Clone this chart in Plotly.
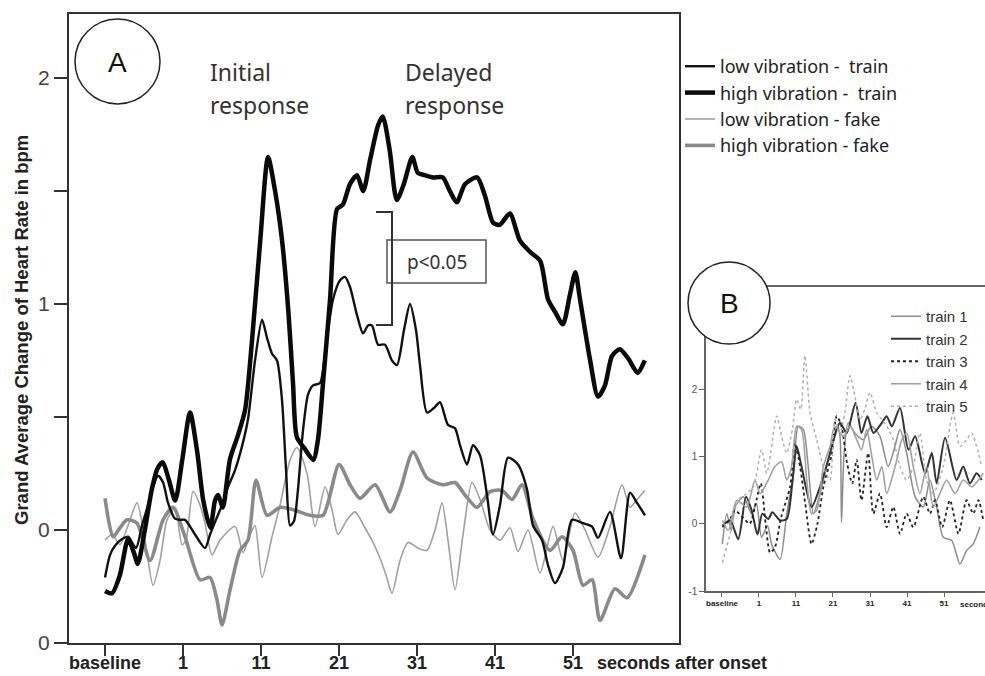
import plotly.graph_objects as go

# ---------------- data (panel A) : (seconds, change in bpm) ----------------
low_vib_train = [(-9.0,-0.21),(-8.36,-0.11),(-7.72,-0.07),(-6.82,-0.04),(-6.05,-0.03),(-5.03,-0.08),(-4.26,0.02),(-3.49,0.11),(-2.85,0.19),(-2.21,0.24),(-1.56,0.21),(-0.92,0.12),(-0.03,0.05),(0.62,0.045),(1.26,0.045),(2.54,-0.02),(3.82,-0.08),(4.46,-0.02),(5.1,0.035),(6.0,0.11),(6.77,0.19),(7.67,0.265),(8.56,0.37),(9.33,0.49),(10.23,0.75),(11.13,0.93),(11.77,0.85),(12.41,0.78),(13.05,0.75),(13.69,0.575),(14.21,0.265),(14.72,0.02),(15.23,0.04),(15.74,0.18),(16.38,0.44),(17.03,0.60),(17.67,0.64),(18.56,0.65),(19.33,0.82),(20.23,1.02),(21.13,1.105),(21.77,1.12),(22.41,1.075),(23.31,0.95),(24.08,0.87),(24.72,0.905),(25.23,0.905),(26.0,0.82),(26.9,0.82),(27.79,0.75),(28.44,0.73),(29.33,0.885),(30.1,1.0),(30.87,0.885),(31.38,0.73),(32.28,0.52),(33.18,0.54),(33.95,0.565),(34.97,0.465),(35.87,0.45),(36.51,0.375),(37.41,0.29),(38.18,0.375),(39.08,0.33),(39.97,0.155),(40.74,-0.02),(41.64,0.11),(42.67,0.32),(43.95,0.29),(45.1,0.18),(45.87,0.02),(47.03,-0.045),(47.79,-0.155),(48.69,-0.235),(49.72,-0.165),(50.87,0.045),(52.28,0.03),(53.44,0.015),(54.21,-0.035),(55.74,0.08),(57.15,-0.125),(58.31,0.165),(59.21,0.12),(60.23,0.065)]

high_vib_train = [(-9.0,-0.27),(-8.1,-0.28),(-7.1,-0.20),(-6.05,-0.04),(-5.3,-0.10),(-4.8,-0.15),(-3.9,0.0),(-3.0,0.18),(-2.3,0.27),(-1.6,0.30),(-0.8,0.22),(0.0,0.13),(0.9,0.31),(1.9,0.52),(2.8,0.35),(3.6,0.13),(4.5,0.01),(5.1,0.13),(5.5,0.155),(6.1,0.10),(7.0,0.31),(8.05,0.42),(8.95,0.53),(9.85,0.84),(10.9,1.28),(11.9,1.65),(12.8,1.50),(13.7,1.28),(14.5,0.97),(15.1,0.65),(15.6,0.41),(16.6,0.36),(17.7,0.31),(18.3,0.40),(18.95,0.65),(19.85,1.02),(20.75,1.42),(21.5,1.44),(22.4,1.53),(23.3,1.57),(24.1,1.50),(25.0,1.64),(26.0,1.79),(26.6,1.83),(27.5,1.68),(28.4,1.46),(29.3,1.53),(30.4,1.65),(31.1,1.58),(32.0,1.57),(33.05,1.56),(34.3,1.56),(35.2,1.50),(36.1,1.45),(37.15,1.53),(38.7,1.56),(39.7,1.48),(40.75,1.36),(41.6,1.35),(42.9,1.40),(44.2,1.28),(45.5,1.23),(46.8,1.19),(47.8,1.02),(48.7,0.965),(49.7,0.91),(50.6,1.04),(51.3,1.14),(51.9,1.02),(53.2,0.75),(54.2,0.59),(55.1,0.64),(56.0,0.77),(57.0,0.80),(58.05,0.76),(59.3,0.695),(60.2,0.75)]

low_vib_fake = [(-9.0,-0.045),(-8.1,-0.02),(-7.08,-0.065),(-6.05,0.02),(-4.9,0.12),(-3.87,-0.045),(-2.85,-0.245),(-1.95,-0.135),(-1.05,0.045),(-0.03,0.095),(0.87,-0.065),(1.38,-0.045),(2.28,0.17),(3.18,0.11),(3.82,0.03),(4.72,-0.11),(5.74,-0.045),(7.67,0.015),(8.69,-0.10),(9.59,-0.02),(10.23,0.02),(11.13,-0.21),(12.41,-0.03),(13.44,0.11),(14.72,0.31),(15.62,0.365),(16.9,0.25),(17.92,0.015),(19.21,0.19),(20.1,0.09),(20.87,-0.02),(22.03,0.045),(23.05,0.08),(24.33,0.01),(25.36,-0.055),(26.26,-0.125),(27.03,-0.20),(27.79,-0.28),(28.82,-0.135),(29.85,-0.055),(31.13,-0.08),(32.28,-0.09),(33.31,0.0),(34.21,0.12),(34.97,-0.045),(35.87,-0.265),(36.9,-0.02),(38.05,0.21),(39.08,0.135),(40.36,0.0),(41.64,-0.045),(42.92,0.01),(43.95,-0.095),(45.23,0.0),(46.77,-0.19),(48.44,0.015),(49.72,-0.135),(51.26,0.075),(52.54,0.0),(54.21,-0.12),(55.74,0.015),(57.28,0.20),(58.31,0.10),(59.21,0.135),(60.23,0.175)]

high_vib_fake = [(-9.0,0.14),(-7.97,-0.03),(-7.08,0.01),(-6.18,0.045),(-4.9,0.03),(-3.23,-0.135),(-1.56,0.045),(-0.28,0.10),(1.26,-0.03),(3.18,-0.22),(4.46,-0.21),(5.36,-0.31),(6.0,-0.42),(7.03,-0.265),(8.31,-0.09),(9.33,-0.045),(10.36,0.22),(11.77,0.065),(13.44,0.10),(15.1,0.09),(17.28,0.065),(18.95,0.065),(21.0,0.29),(22.41,0.20),(23.69,0.14),(25.62,0.20),(27.54,0.08),(28.82,0.175),(30.49,0.345),(32.28,0.23),(34.33,0.20),(35.87,0.21),(37.15,0.155),(38.69,0.10),(40.36,0.17),(41.9,0.175),(43.18,0.135),(44.46,0.20),(45.87,0.05),(48.05,-0.09),(49.59,-0.03),(51.0,-0.09),(52.28,-0.245),(53.44,-0.22),(54.46,-0.40),(56.38,-0.26),(57.92,-0.30),(60.23,-0.11)]

# ---------------- data (panel B) ----------------
train_1 = [(-8.9,-0.3),(-7.7,0.15),(-6.5,-0.1),(-5.5,0.25),(-3.2,0.4),(-1.0,0.15),(0.3,0.3),(1.7,-0.2),(3.3,-0.03),(4.4,-0.3),(6.7,-0.53),(8.5,0.15),(10.3,0.75),(11.6,1.45),(13.0,1.4),(14.3,0.85),(15.7,0.15),(17.5,0.45),(19.3,0.85),(21.1,1.25),(22.2,1.45),(22.9,1.3),(23.3,0.02),(24.0,1.05),(25.1,1.5),(26.9,1.35),(29.2,1.25),(31.4,1.45),(33.7,1.3),(35.9,0.85),(37.5,1.1),(39.1,1.4),(40.9,1.05),(43.2,0.4),(45.4,0.25),(47.2,0.65),(49.0,0.25),(50.8,-0.2),(53.1,-0.25),(55.3,-0.6),(57.1,-0.4),(58.9,-0.3),(60.7,-0.05)]
train_2 = [(-8.9,-0.03),(-6.8,0.05),(-4.6,-0.23),(-2.5,0.40),(-1.0,0.2),(0.6,-0.16),(1.9,0.15),(3.5,0.07),(4.6,0.17),(6.7,0.05),(8.5,0.07),(10.0,0.6),(11.2,1.15),(12.5,0.85),(15.2,0.25),(17.5,0.55),(19.7,0.95),(22.0,1.4),(22.9,1.5),(24.7,1.35),(27.1,1.8),(28.7,1.35),(30.3,1.6),(31.9,1.35),(34.2,1.5),(35.5,1.6),(36.9,1.45),(39.1,1.72),(41.4,1.1),(43.2,1.3),(45.9,0.75),(47.7,1.05),(49.0,0.6),(51.3,1.28),(54.4,0.65),(56.2,0.85),(58.0,0.6),(59.8,0.75),(61.2,0.65)]
train_3 = [(-8.9,-0.05),(-7.0,0.05),(-5.5,0.2),(-3.5,0.1),(-1.5,0.0),(0.3,0.35),(1.5,0.6),(2.8,0.0),(4.0,-0.43),(5.3,-0.35),(7.0,0.1),(9.4,0.55),(10.7,1.2),(12.1,0.85),(13.5,0.3),(15.2,-0.3),(16.8,0.0),(18.4,0.55),(20.6,1.02),(22.0,1.6),(23.3,1.45),(24.8,0.9),(26.2,0.6),(27.4,0.95),(28.7,0.35),(30.5,1.05),(31.9,0.15),(33.7,0.45),(35.5,-0.05),(37.3,0.25),(39.1,-0.15),(40.9,0.15),(42.7,-0.05),(45.4,0.4),(47.2,0.15),(48.6,0.35),(50.5,-0.05),(52.6,0.35),(54.9,-0.15),(57.1,0.35),(58.9,0.15),(60.3,0.35),(61.6,0.05)]
train_4 = [(-8.9,0.05),(-7.3,-0.1),(-5.0,0.35),(-2.3,0.25),(-0.1,0.65),(1.3,0.45),(3.5,0.65),(5.3,0.85),(7.1,0.92),(8.5,0.65),(9.8,0.85),(11.2,1.45),(12.5,1.4),(13.9,0.65),(15.2,0.15),(16.6,0.2),(18.4,0.85),(20.2,1.15),(21.5,1.45),(23.8,1.3),(25.6,1.45),(27.4,1.25),(28.7,1.1),(30.1,1.4),(31.5,1.0),(32.8,0.65),(34.2,0.85),(35.5,0.45),(37.8,0.85),(39.6,1.25),(40.9,1.35),(42.7,0.85),(44.5,0.45),(46.3,0.85),(48.1,0.25),(49.9,0.45),(51.7,0.65),(54.0,0.45),(56.2,0.65),(58.5,0.55),(60.3,0.65),(61.6,0.75)]
train_5 = [(-8.9,-0.58),(-6.8,-0.15),(-4.6,0.35),(-2.3,0.45),(-0.5,0.55),(1.7,1.1),(3.1,0.75),(5.8,1.6),(7.1,1.3),(8.5,1.05),(10.0,1.4),(11.2,1.85),(12.3,1.7),(13.4,2.5),(14.8,1.65),(16.6,1.25),(18.4,0.85),(20.2,0.65),(21.5,1.55),(22.9,1.35),(24.2,1.65),(25.6,2.2),(26.9,1.9),(28.3,1.55),(29.6,1.7),(31.0,1.95),(32.8,1.65),(34.2,1.55),(35.5,1.45),(37.3,1.25),(39.1,0.85),(40.9,0.65),(42.7,0.85),(44.5,1.35),(46.3,0.65),(48.1,0.45),(50.8,0.85),(53.5,1.65),(55.3,1.15),(57.1,1.25),(58.5,1.35),(59.8,1.15),(61.2,0.85)]

tick_vals_x = [-9, 1, 11, 21, 31, 41, 51]
tick_text_x = ["baseline", "1", "11", "21", "31", "41", "51"]
tick_vals_yA = [-0.5, 0, 0.5, 1, 1.5, 2]
tick_text_yA = ["0", "0", "", "1", "", "2"]
tick_vals_yB = [-1, 0, 1, 2]
tick_text_yB = ["-1", "0", "1", "2"]

W, H = 985, 676
def px(x): return x / W
def py(y): return 1 - y / H

fig = go.Figure()

def add(series, name, color, width, rank, dash="solid", xa="x", ya="y", legend="legend", smooth=0.7):
    fig.add_trace(go.Scatter(
        x=[p[0] for p in series], y=[p[1] for p in series], mode="lines", name=name,
        line=dict(color=color, width=width, dash=dash, shape="spline", smoothing=smooth),
        xaxis=xa, yaxis=ya, legend=legend, legendrank=rank, hoverinfo="skip"))

# panel A (gray first so black lies on top)
add(low_vib_fake, "low vibration - fake", "#a0a0a0", 1.6, 3)
add(high_vib_fake, "high vibration - fake", "#8a8a8a", 3.6, 4)
add(low_vib_train, "low vibration -  train", "#111111", 2.4, 1)
add(high_vib_train, "high vibration -  train", "#0a0a0a", 4.5, 2)

# panel B
add(train_1, "train 1", "#8c8c8c", 1.5, 1, xa="x2", ya="y2", legend="legend2")
add(train_2, "train 2", "#333333", 2.0, 2, xa="x2", ya="y2", legend="legend2")
add(train_3, "train 3", "#222222", 1.8, 3, dash="dot", xa="x2", ya="y2", legend="legend2")
add(train_4, "train 4", "#a2a2a2", 1.6, 4, xa="x2", ya="y2", legend="legend2")
add(train_5, "train 5", "#b0b0b0", 1.5, 5, dash="dot", xa="x2", ya="y2", legend="legend2")

axis_col = "#333333"
fig.update_layout(
    width=W, height=H, margin=dict(l=0, r=0, t=0, b=0, autoexpand=False),
    paper_bgcolor="white", plot_bgcolor="white", showlegend=True,
    xaxis=dict(domain=[px(69), px(679)], range=[-13.62, 64.59], tickmode="array", automargin=False,
               tickvals=tick_vals_x, ticktext=["<b>%s</b>" % t for t in tick_text_x],
               ticks="outside", ticklen=11, tickwidth=2, tickcolor=axis_col,
               ticklabelstandoff=-9,
               showline=True, linewidth=2, linecolor=axis_col, mirror=True,
               showgrid=False, zeroline=False,
               tickfont=dict(family="Liberation Sans", size=18, color="#222")),
    yaxis=dict(domain=[py(643), py(14)], range=[-0.5, 2.283], tickmode="array", automargin=False,
               tickvals=tick_vals_yA, ticktext=tick_text_yA,
               ticks="outside", ticklen=13, tickwidth=1.5, tickcolor=axis_col,
               showline=True, linewidth=2, linecolor=axis_col, mirror=True,
               showgrid=False, zeroline=False,
               tickfont=dict(family="Liberation Sans", size=21, color="#444")),
    xaxis2=dict(domain=[px(706), 1.0], range=[-13.32, 62.08], anchor="y2", tickmode="array",
                automargin=False,
                tickvals=tick_vals_x, ticktext=["<b>%s</b>" % t for t in tick_text_x],
                ticks="outside", ticklen=4, tickwidth=1.2, tickcolor="#666",
                showline=True, linewidth=1.5, linecolor="#666", mirror=True,
                showgrid=False, zeroline=False,
                tickfont=dict(family="Liberation Sans", size=8, color="#222")),
    yaxis2=dict(domain=[py(591), py(287)], range=[-1.0, 3.52], anchor="x2", tickmode="array",
                automargin=False,
                tickvals=tick_vals_yB, ticktext=tick_text_yB,
                ticks="outside", ticklen=5, tickwidth=1.2, tickcolor="#666",
                showline=True, linewidth=1.5, linecolor="#666",
                showgrid=False, zeroline=False,
                tickfont=dict(family="Liberation Sans", size=10, color="#555")),
    legend=dict(x=px(680), y=py(48), xanchor="left", yanchor="top", bgcolor="rgba(0,0,0,0)",
                font=dict(family="Noto Sans", size=18, color="#222"), tracegroupgap=0,
                itemwidth=30),
    legend2=dict(x=px(886), y=py(300), xanchor="left", yanchor="top", bgcolor="rgba(0,0,0,0)",
                 font=dict(family="Liberation Sans", size=15, color="#333"), tracegroupgap=0,
                 itemwidth=30),
)

shapes = [
    dict(type="circle", xref="paper", yref="paper", x0=px(75), x1=px(160), y0=py(104), y1=py(19),
         line=dict(color="#222", width=1.5), fillcolor="white", layer="above"),
    dict(type="circle", xref="paper", yref="paper", x0=px(688), x1=px(770), y0=py(344), y1=py(262),
         line=dict(color="#222", width=1.5), fillcolor="white", layer="above"),
    dict(type="rect", xref="paper", yref="paper", x0=px(387), x1=px(486), y0=py(283), y1=py(240),
         line=dict(color="#555", width=1.5), fillcolor="rgba(0,0,0,0)", layer="above"),
    dict(type="path", xref="paper", yref="paper",
         path="M %f %f L %f %f L %f %f L %f %f" % (px(376), py(212), px(392), py(212),
                                                   px(392), py(325), px(376), py(325)),
         line=dict(color="#333", width=2), layer="above"),
]
fig.update_layout(shapes=shapes)

def ann(x, y, text, size, family="Liberation Sans", color="#222", xanchor="center", angle=0):
    fig.add_annotation(x=px(x), y=py(y), xref="paper", yref="paper", text=text, showarrow=False,
                       xanchor=xanchor, yanchor="middle", textangle=angle,
                       font=dict(family=family, size=size, color=color))

ann(117, 62, "A", 28, color="#111")
ann(729, 303, "B", 28, color="#111")
ann(208, 72, "Initial", 23, family="Noto Sans", color="#333", xanchor="left")
ann(208, 105, "response", 23, family="Noto Sans", color="#333", xanchor="left")
ann(403, 72, "Delayed", 23, family="Noto Sans", color="#333", xanchor="left")
ann(403, 105, "response", 23, family="Noto Sans", color="#333", xanchor="left")
ann(437, 262, "p&lt;0.05", 19, family="Noto Sans", color="#333")
ann(595, 663, "<b>seconds after onset</b>", 18, xanchor="left")
ann(958, 604, "<b>seconds after onset</b>", 8, xanchor="left")
ann(22, 330, "<b>Grand Average Change of Heart Rate in bpm</b>", 18.5, angle=-90)

fig.write_html("out.html", config={"displayModeBar": False},
               post_script="document.body.style.margin='0px';document.body.style.overflow='hidden';")
